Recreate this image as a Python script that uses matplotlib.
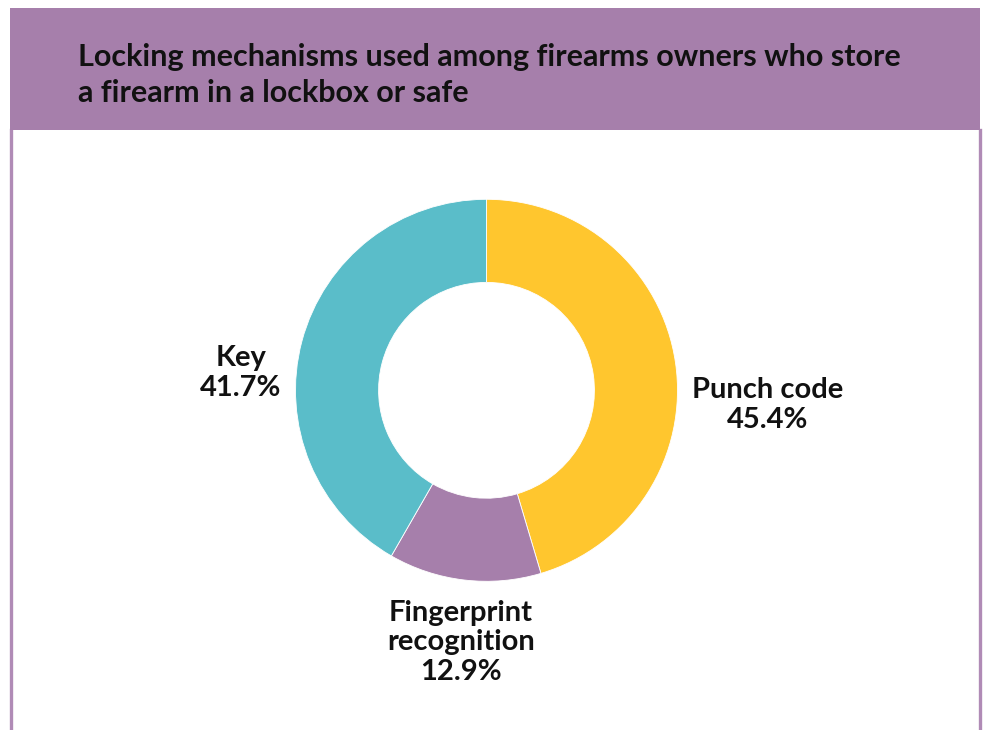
import matplotlib.pyplot as plt
from matplotlib.patches import Rectangle
from matplotlib.lines import Line2D

# Data
categories = ["Punch code", "Fingerprint\nrecognition", "Key"]
shares = [45.4, 12.9, 41.7]
colors = ["#FFC62E", "#A67FAB", "#5ABDC9"]

title = "Locking mechanisms used among firearms owners who store\na firearm in a lockbox or safe"

W, H = 984, 730
DPI = 100
plt.rcParams["font.family"] = ["Lato", "DejaVu Sans"]

fig = plt.figure(figsize=(W / DPI, H / DPI), dpi=DPI)
fig.patch.set_facecolor("white")


def fx(px):
    return px / W


def fy(py):
    return 1 - py / H


# Header band and frame
header_color = "#A67FAB"
fig.patches.append(Rectangle((fx(10), fy(130)), fx(970), 122 / H,
                             transform=fig.transFigure, facecolor=header_color,
                             edgecolor="none", zorder=0))
for x in (11.3, 980):
    fig.lines.append(Line2D([fx(x), fx(x)], [fy(130), 0], transform=fig.transFigure,
                            color="#B08BB6", linewidth=2.4, zorder=0))

# Multi-line text is anchored at the baseline of its last line
fig.text(fx(78), fy(102), title, fontsize=22, fontweight="bold", color="#111111",
         ha="left", va="baseline", linespacing=1.34)

# Donut
cx, cy, R = 486.5, 390.3, 191
ax = fig.add_axes([fx(cx - R), fy(cy + R), 2 * R / W, 2 * R / H])
ax.pie(shares, colors=colors, startangle=90, counterclock=False, radius=1,
       wedgeprops=dict(width=0.435, edgecolor="white", linewidth=0.6))
ax.set_xlim(-1, 1)
ax.set_ylim(-1, 1)
ax.set_aspect("equal")
ax.axis("off")

# Labels
label_pos = [(768, 428), (461, 680), (241, 396)]
for name, val, (lx, ly) in zip(categories, shares, label_pos):
    fig.text(fx(lx), fy(ly), f"{name}\n{val:.1f}%", fontsize=21, fontweight="bold",
             color="#111111", ha="center", va="baseline", linespacing=1.17)

fig.savefig("out.png", dpi=DPI)
